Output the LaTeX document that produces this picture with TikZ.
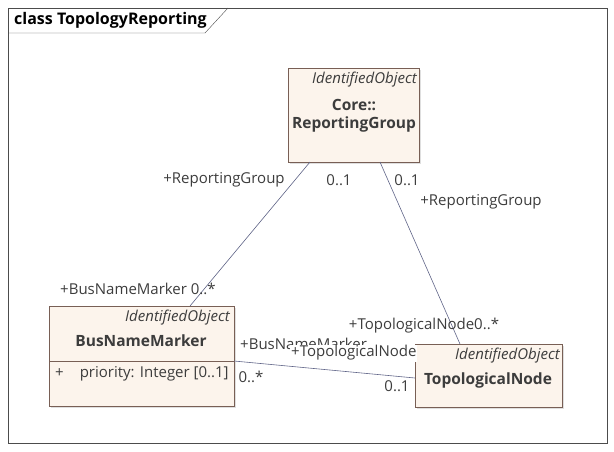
\documentclass[tikz,border=0pt]{standalone}
\usepackage{fontspec}
\setmainfont{Open Sans}
\usetikzlibrary{positioning,shadows}
\definecolor{boxfill}{RGB}{252,244,236}
\definecolor{boxline}{RGB}{120,95,85}
\definecolor{assoc}{RGB}{95,100,135}
\definecolor{txt}{RGB}{60,60,60}
\tikzset{
  cls/.style={draw=boxline,fill=boxfill,drop shadow={shadow xshift=2pt,shadow yshift=-2pt,fill=black!25},inner sep=0,anchor=north west},
  lbl/.style={font=\fontsize{15}{17}\selectfont,text=txt,inner sep=1pt},
  stereo/.style={lbl,font=\fontsize{15}{17}\selectfont\itshape,anchor=east},
  cname/.style={lbl,font=\fontsize{15.5}{17}\selectfont\bfseries},
  link/.style={draw=assoc,semithick}
}
\begin{document}
\begin{tikzpicture}[x=1pt,y=-1pt]
\useasboundingbox (0,0) rectangle (614,451);
\draw[black!70] (8,8) rectangle (607,443);
\draw[black!70] (8,33) -- (205,33) -- (228,8);
\node[lbl,anchor=west,text=black,font=\fontsize{16}{17}\selectfont\bfseries] (title) at (13,20) {class TopologyReporting};

% ReportingGroup
\node[cls,minimum width=131,minimum height=94] (rg) at (288,68) {};
\node[stereo] (rgst) at (418,80) {IdentifiedObject};
\node[cname] (rgns) at (354,105) {Core::};
\node[cname] (rgname) at (354,124) {ReportingGroup};

% BusNameMarker
\node[cls,minimum width=185,minimum height=100] (bnm) at (49,306) {};
\draw[boxline] (49,361) -- (234,361);
\node[stereo] (bnmst) at (231,318) {IdentifiedObject};
\node[cname] (bnmname) at (141,341) {BusNameMarker};
\node[lbl,anchor=west] (bnmattr) at (54,374) {+\hspace{16pt}priority: Integer [0..1]};

% TopologicalNode
\node[cls,minimum width=147,minimum height=63] (tn) at (415,344) {};
\node[stereo] (tnst) at (561,356) {IdentifiedObject};
\node[cname] (tnname) at (488,380) {TopologicalNode};

% connector ends
\coordinate (rgA) at (310,162);
\coordinate (rgB) at (380,162);
\coordinate (bnmA) at (190,306);
\coordinate (bnmB) at (234,361);
\coordinate (tnA) at (460,344);
\coordinate (tnB) at (415,378);

\draw[link] (rgA) -- (bnmA);
\draw[link] (rgB) -- (tnA);
\draw[link] (bnmB) -- (tnB);

% role labels
\node[lbl] (r1) at (224,180) {+ReportingGroup};
\node[lbl] (m1) at (339,180) {0..1};
\node[lbl] (m2) at (407,180) {0..1};
\node[lbl] (r2) at (481,202) {+ReportingGroup};
\node[lbl] (r3) at (138,289) {+BusNameMarker 0..*};
\node[lbl] (r4) at (424,326) {+TopologicalNode0..*};
\node[lbl,anchor=west] (r5) at (239,344) {+BusNameMarker};
\node[lbl,fill=white,anchor=west] (r6) at (290,353) {+TopologicalNode};
\node[lbl] (m3) at (251,377) {0..*};
\node[lbl] (m4) at (397,386) {0..1};
\end{tikzpicture}
\end{document}
